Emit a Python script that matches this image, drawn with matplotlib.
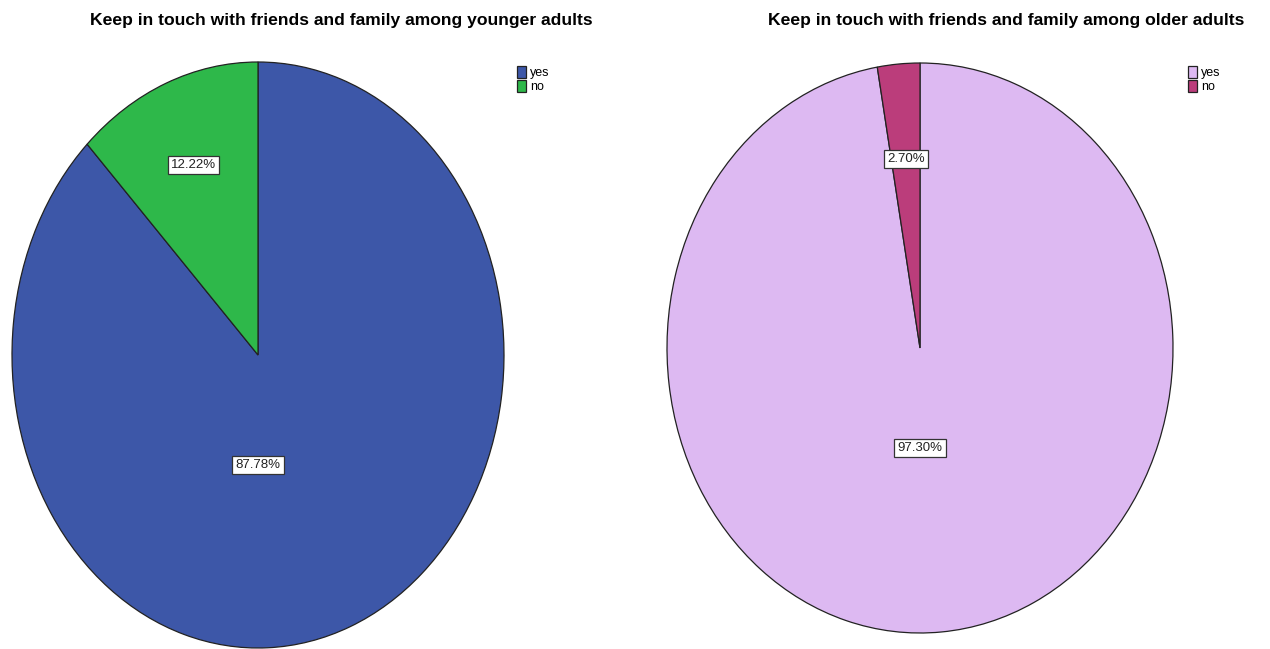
"""Two SPSS-style pie charts: keeping in touch with friends and family."""

import matplotlib

matplotlib.use("Agg")
import matplotlib.pyplot as plt

plt.rcParams["font.family"] = ["Liberation Sans", "DejaVu Sans"]

FIG_W, FIG_H = 1270, 649

categories = ["yes", "no"]
younger_pct = [87.78, 12.22]
older_pct = [97.30, 2.70]
younger_colors = ["#3d57a8", "#2eb84a"]
older_colors = ["#ddb9f2", "#bb3d7b"]
titles = [
    "Keep in touch with friends and family among younger adults",
    "Keep in touch with friends and family among older adults",
]


def px_box(left, top, right, bottom):
    """Convert a pixel box (top-left origin) into figure fractions."""
    return [left / FIG_W, 1 - bottom / FIG_H, (right - left) / FIG_W, (bottom - top) / FIG_H]


def draw_pie(fig, box, values, colors, title, title_x, legend_xy, big_label_y, small_dist):
    ax = fig.add_axes(px_box(*box))
    wedges, _, autotexts = ax.pie(
        values,
        colors=colors,
        startangle=90,
        counterclock=False,
        autopct="%.2f%%",
        pctdistance=small_dist,
        wedgeprops={"edgecolor": "#222222", "linewidth": 0.9},
        textprops={"fontsize": 9.5, "color": "#222222"},
    )
    for w in wedges:
        w.set_clip_on(False)
    autotexts[0].set_position((0, big_label_y))
    for t in autotexts:
        t.set_bbox({"facecolor": "white", "edgecolor": "#333333", "linewidth": 0.9, "pad": 2.2})
    ax.set_aspect("auto")
    ax.set_xlim(-1, 1)
    ax.set_ylim(-1, 1)
    fig.text(title_x / FIG_W, 1 - 20 / FIG_H, title, ha="center", va="center",
             fontsize=12.6, fontweight="bold")
    fig.legend(
        wedges, categories,
        loc="upper left",
        bbox_to_anchor=(legend_xy[0] / FIG_W, 1 - legend_xy[1] / FIG_H),
        frameon=False,
        fontsize=9,
        handlelength=0.75,
        handleheight=1.05,
        handletextpad=0.3,
        labelspacing=0.1,
        borderpad=0,
        borderaxespad=0,
    )
    return ax


fig = plt.figure(figsize=(FIG_W / 100, FIG_H / 100), dpi=100)
draw_pie(fig, (12, 62, 504, 648), younger_pct, younger_colors, titles[0], 341, (517, 66),
         -0.375, 0.70)
draw_pie(fig, (667, 63, 1173, 633), older_pct, older_colors, titles[1], 1006, (1188, 66),
         -0.35, 0.665)
fig.savefig("out.png", dpi=100)
